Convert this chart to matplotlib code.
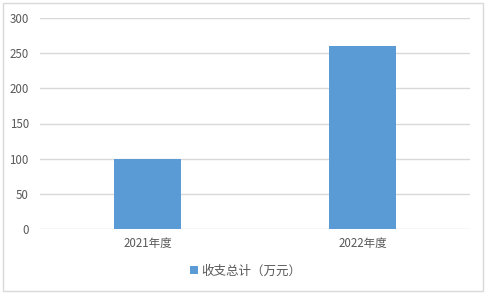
import matplotlib.pyplot as plt
from matplotlib.patches import Rectangle

plt.rcParams['font.family'] = ['Noto Sans CJK SC', 'DejaVu Sans']

# data
categories = ['2021年度', '2022年度']
totals = [100, 260]
series_name = '收支总计（万元）'
y_ticks = [0, 50, 100, 150, 200, 250, 300]

W, H = 489, 297
fig = plt.figure(figsize=(W / 100, H / 100), dpi=100)
ax = fig.add_axes([40 / W, 1 - 229 / H, 430 / W, 211 / H])

x = list(range(len(categories)))
ax.bar(x, totals, width=0.31, color='#5B9BD5', label=series_name, zorder=3)

ax.set_xlim(-0.5, len(categories) - 0.5)
ax.set_ylim(0, 300)
ax.set_yticks(y_ticks)
ax.set_xticks(x)
ax.set_xticklabels(categories)
ax.tick_params(axis='both', length=0, colors='#595959', labelsize=8.3)
ax.tick_params(axis='y', pad=8)
ax.tick_params(axis='x', pad=6)
ax.grid(axis='y', color='#D9D9D9', linewidth=1, zorder=0)
for s in ax.spines.values():
    s.set_visible(False)

leg = fig.legend(loc='center', bbox_to_anchor=(246 / W, 1 - 271 / H), frameon=False,
                 fontsize=9, handlelength=0.6, handleheight=0.6, handletextpad=0.3)
for t in leg.get_texts():
    t.set_color('#595959')

# outer chart border
fig.patches.append(Rectangle((3 / W, 1 - 291 / H), 480 / W, 288 / H, transform=fig.transFigure,
                             fill=False, edgecolor='#D9D9D9', linewidth=1))

fig.savefig('out.png', dpi=100)
